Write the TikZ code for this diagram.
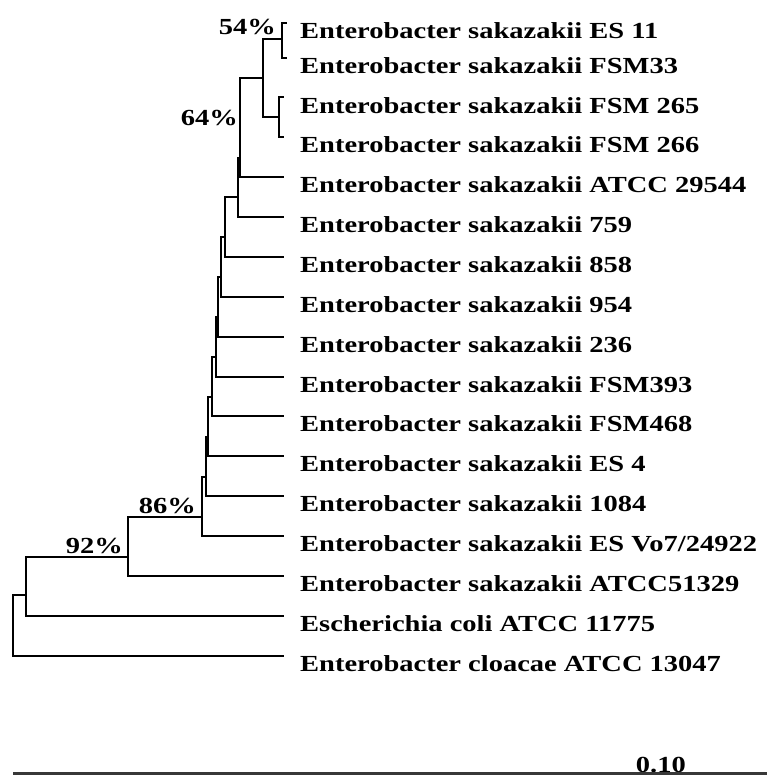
\documentclass[tikz,border=0pt]{standalone}
\usepackage{fontspec}
\newfontfamily\labfont[FakeStretch=1.239]{Liberation Serif}
\begin{document}
\begin{tikzpicture}[x=1pt,y=-1pt,
  br/.style={line width=1.3pt, black, line cap=rect},
  lab/.style={font=\labfont\bfseries\fontsize{23}{23}\selectfont, inner sep=0pt, anchor=base west},
  boot/.style={font=\labfont\bfseries\fontsize{23}{23}\selectfont, inner sep=0pt, anchor=base east},
  scalebar/.style={line width=2.6pt, black!78}]
\useasboundingbox (0,0) rectangle (767,776);
% leaf tips
\coordinate (l0) at (286,23);
\coordinate (l1) at (286,58);
\coordinate (l2) at (283,97);
\coordinate (l3) at (283,137);
\coordinate (l4) at (283,177);
\coordinate (l5) at (283,217);
\coordinate (l6) at (283,257);
\coordinate (l7) at (283,297);
\coordinate (l8) at (283,337);
\coordinate (l9) at (283,377);
\coordinate (l10) at (283,416);
\coordinate (l11) at (283,456);
\coordinate (l12) at (283,496);
\coordinate (l13) at (283,536);
\coordinate (l14) at (283,576);
\coordinate (l15) at (283,616);
\coordinate (l16) at (283,656);
% internal nodes
\coordinate (nA) at (282,39);
\coordinate (nB) at (279,117);
\coordinate (nC) at (263,78);
\coordinate (nD) at (240,158);
\coordinate (nE) at (238,197);
\coordinate (nF) at (225,237);
\coordinate (nG) at (221,277);
\coordinate (nH) at (218,317);
\coordinate (nI) at (216,357);
\coordinate (nJ) at (212,397);
\coordinate (nK) at (208,437);
\coordinate (nM) at (206,477);
\coordinate (nN) at (202,517);
\coordinate (nP) at (128,557);
\coordinate (nQ) at (26,595);
\coordinate (nR) at (13,625);
% branches
\draw[br] (nA) |- (l0); \draw[br] (nA) |- (l1);
\draw[br] (nB) |- (l2); \draw[br] (nB) |- (l3);
\draw[br] (nC) |- (nA); \draw[br] (nC) |- (nB);
\draw[br] (nD) |- (nC); \draw[br] (nD) |- (l4);
\draw[br] (nE) |- (nD); \draw[br] (nE) |- (l5);
\draw[br] (nF) |- (nE); \draw[br] (nF) |- (l6);
\draw[br] (nG) |- (nF); \draw[br] (nG) |- (l7);
\draw[br] (nH) |- (nG); \draw[br] (nH) |- (l8);
\draw[br] (nI) |- (nH); \draw[br] (nI) |- (l9);
\draw[br] (nJ) |- (nI); \draw[br] (nJ) |- (l10);
\draw[br] (nK) |- (nJ); \draw[br] (nK) |- (l11);
\draw[br] (nM) |- (nK); \draw[br] (nM) |- (l12);
\draw[br] (nN) |- (nM); \draw[br] (nN) |- (l13);
\draw[br] (nP) |- (nN); \draw[br] (nP) |- (l14);
\draw[br] (nQ) |- (nP); \draw[br] (nQ) |- (l15);
\draw[br] (nR) |- (nQ); \draw[br] (nR) |- (l16);
% leaf labels
\node[lab] (t0) at (300,38) {Enterobacter sakazakii ES 11};
\node[lab] (t1) at (300,73.5) {Enterobacter sakazakii FSM33};
\node[lab] (t2) at (300,113) {Enterobacter sakazakii FSM 265};
\node[lab] (t3) at (300,152.5) {Enterobacter sakazakii FSM 266};
\node[lab] (t4) at (300,192.5) {Enterobacter sakazakii ATCC 29544};
\node[lab] (t5) at (300,232.5) {Enterobacter sakazakii 759};
\node[lab] (t6) at (300,272.5) {Enterobacter sakazakii 858};
\node[lab] (t7) at (300,312.5) {Enterobacter sakazakii 954};
\node[lab] (t8) at (300,352.5) {Enterobacter sakazakii 236};
\node[lab] (t9) at (300,392.5) {Enterobacter sakazakii FSM393};
\node[lab] (t10) at (300,431.5) {Enterobacter sakazakii FSM468};
\node[lab] (t11) at (300,471.5) {Enterobacter sakazakii ES 4};
\node[lab] (t12) at (300,511.5) {Enterobacter sakazakii 1084};
\node[lab] (t13) at (300,551.5) {Enterobacter sakazakii ES Vo7/24922};
\node[lab] (t14) at (300,591.5) {Enterobacter sakazakii ATCC51329};
\node[lab] (t15) at (300,631.5) {Escherichia coli ATCC 11775};
\node[lab] (t16) at (300,671.5) {Enterobacter cloacae ATCC 13047};
% bootstrap values
\node[boot] (b54) at (276,35) {54\%};
\node[boot] (b64) at (238,125) {64\%};
\node[boot] (b86) at (196,513) {86\%};
\node[boot] (b92) at (123,553) {92\%};
% scale bar
\coordinate (s0) at (13,773.5);
\coordinate (s1) at (767,773.5);
\node[lab, anchor=base east] (sc) at (686,772) {0.10};
\draw[scalebar] (s0) -- (s1);
\end{tikzpicture}
\end{document}
